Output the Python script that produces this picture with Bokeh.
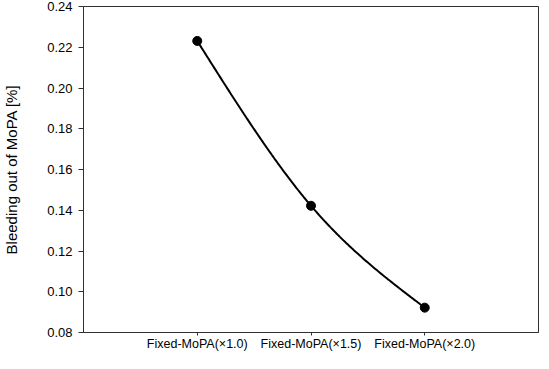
import numpy as np
from bokeh.plotting import figure
from bokeh.models import FixedTicker, PrintfTickFormatter, Range1d
from bokeh.embed import file_html
from bokeh.resources import INLINE

categories = ["Fixed-MoPA(\u00d71.0)", "Fixed-MoPA(\u00d71.5)", "Fixed-MoPA(\u00d72.0)"]
bleeding = [0.2231, 0.1422, 0.0922]
y_ticks = [0.08, 0.10, 0.12, 0.14, 0.16, 0.18, 0.20, 0.22, 0.24]

xs = np.arange(1, len(categories) + 1, dtype=float)
ys = np.array(bleeding)

# natural cubic spline through the data points (rendering of the smooth line)
def natural_spline(x, y, n=200):
    m = len(x)
    h = np.diff(x)
    A = np.zeros((m, m)); b = np.zeros(m)
    A[0, 0] = 1; A[-1, -1] = 1
    for i in range(1, m - 1):
        A[i, i - 1] = h[i - 1]; A[i, i] = 2 * (h[i - 1] + h[i]); A[i, i + 1] = h[i]
        b[i] = 6 * ((y[i + 1] - y[i]) / h[i] - (y[i] - y[i - 1]) / h[i - 1])
    M = np.linalg.solve(A, b)
    xx = np.linspace(x[0], x[-1], n); yy = np.empty_like(xx)
    for k, t in enumerate(xx):
        i = min(np.searchsorted(x, t, side="right") - 1, m - 2)
        hi = h[i]; a = x[i + 1] - t; c = t - x[i]
        yy[k] = (M[i] * a**3 + M[i + 1] * c**3) / (6 * hi) \
            + (y[i] / hi - M[i] * hi / 6) * a + (y[i + 1] / hi - M[i + 1] * hi / 6) * c
    return xx, yy

cx, cy = natural_spline(xs, ys)

p = figure(width=539, height=353, output_backend="svg", toolbar_location=None,
           x_range=Range1d(0, 4), y_range=Range1d(0.08, 0.24),
           min_border_left=81, min_border_right=1, min_border_top=6, min_border_bottom=0)
p.background_fill_color = "white"
p.border_fill_color = "white"
p.outline_line_color = "#303030"
p.outline_line_width = 1
p.xgrid.visible = False
p.ygrid.visible = False

p.line(cx, cy, line_color="black", line_width=2)
p.scatter(xs, ys, size=9, fill_color="black", line_color="black")

font = "Liberation Sans"
xa = p.xaxis[0]
xa.ticker = FixedTicker(ticks=list(xs))
xa.major_label_overrides = {float(x): c for x, c in zip(xs, categories)}
xa.major_label_overrides.update({int(x): c for x, c in zip(xs, categories)})
xa.major_tick_out = 3
xa.major_tick_in = 0
xa.minor_tick_line_color = None
xa.major_label_standoff = 1
xa.major_label_text_font = font
xa.major_label_text_font_size = "12.5px"
xa.major_label_text_color = "black"
xa.axis_line_color = "#303030"
xa.major_tick_line_color = "#303030"

ya = p.yaxis[0]
ya.ticker = FixedTicker(ticks=y_ticks)
ya.formatter = PrintfTickFormatter(format="%.2f")
ya.major_tick_out = 5
ya.major_tick_in = 0
ya.minor_tick_line_color = None
ya.major_label_standoff = 6
ya.major_label_text_font = font
ya.major_label_text_font_size = "13px"
ya.major_label_text_color = "black"
ya.axis_label = "Bleeding out of MoPA [%]"
ya.axis_label_text_font = font
ya.axis_label_text_font_size = "15px"
ya.axis_label_text_font_style = "normal"
ya.axis_label_text_color = "black"
ya.axis_label_standoff = 24
ya.axis_line_color = "#303030"
ya.major_tick_line_color = "#303030"

open("out.html", "w").write(file_html(p, INLINE))
